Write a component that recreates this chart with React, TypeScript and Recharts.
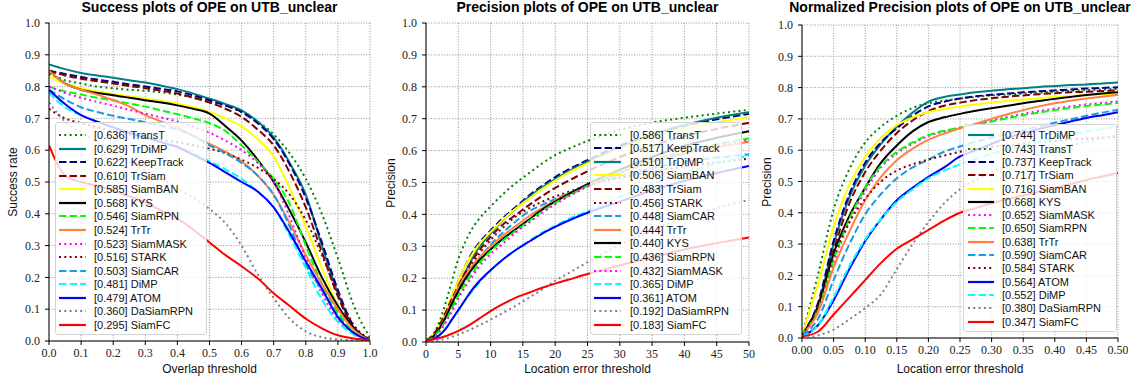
import React from 'react';
import { LineChart, Line, XAxis, YAxis, CartesianGrid } from 'recharts';

// ---------- thresholds ----------
const X_SUCCESS = [0, 0.05, 0.1, 0.15, 0.2, 0.25, 0.3, 0.35, 0.4, 0.45, 0.5, 0.55, 0.6, 0.65, 0.7, 0.75, 0.8, 0.85, 0.9, 0.95, 1.0];
const X_PRECISION = [0, 1, 2, 3, 4, 5, 6, 7, 8, 10, 12, 14, 16, 18, 20, 22, 25, 30, 35, 40, 45, 50];
const X_NORM = [0, 0.025, 0.05, 0.075, 0.1, 0.125, 0.15, 0.175, 0.2, 0.225, 0.25, 0.275, 0.3, 0.325, 0.35, 0.375, 0.4, 0.425, 0.45, 0.475, 0.5];

// ---------- tick labels ----------
const TICKS_SUCCESS_X = [0, 0.1, 0.2, 0.3, 0.4, 0.5, 0.6, 0.7, 0.8, 0.9, 1.0];
const TICKS_PRECISION_X = [0, 5, 10, 15, 20, 25, 30, 35, 40, 45, 50];
const TICKS_NORM_X = [0, 0.05, 0.1, 0.15, 0.2, 0.25, 0.3, 0.35, 0.4, 0.45, 0.5];
const TICKS_Y = [0, 0.1, 0.2, 0.3, 0.4, 0.5, 0.6, 0.7, 0.8, 0.9, 1.0];

// ---------- success plot ----------
const succ_TransT = [0.84, 0.82, 0.81, 0.80, 0.795, 0.79, 0.787, 0.782, 0.775, 0.765, 0.752, 0.74, 0.72, 0.69, 0.65, 0.59, 0.51, 0.40, 0.26, 0.11, 0.01];
const succ_TrDiMP = [0.87, 0.855, 0.843, 0.835, 0.828, 0.82, 0.813, 0.803, 0.792, 0.778, 0.762, 0.745, 0.725, 0.69, 0.64, 0.56, 0.46, 0.30, 0.15, 0.04, 0.005];
const succ_KeepTrack = [0.85, 0.84, 0.83, 0.822, 0.815, 0.807, 0.80, 0.793, 0.785, 0.772, 0.757, 0.74, 0.72, 0.685, 0.635, 0.555, 0.45, 0.31, 0.16, 0.045, 0.005];
const succ_TrSiam = [0.85, 0.835, 0.825, 0.817, 0.81, 0.802, 0.795, 0.787, 0.778, 0.765, 0.75, 0.73, 0.705, 0.665, 0.615, 0.53, 0.42, 0.28, 0.14, 0.04, 0.005];
const succ_SiamBAN = [0.83, 0.81, 0.795, 0.785, 0.777, 0.77, 0.763, 0.755, 0.747, 0.735, 0.72, 0.70, 0.675, 0.635, 0.58, 0.48, 0.36, 0.23, 0.11, 0.03, 0.003];
const succ_KYS = [0.85, 0.81, 0.79, 0.78, 0.773, 0.765, 0.757, 0.75, 0.741, 0.73, 0.715, 0.675, 0.63, 0.57, 0.50, 0.41, 0.31, 0.20, 0.11, 0.04, 0.003];
const succ_SiamRPN = [0.80, 0.785, 0.775, 0.765, 0.757, 0.747, 0.737, 0.725, 0.713, 0.70, 0.685, 0.66, 0.615, 0.565, 0.51, 0.43, 0.30, 0.18, 0.09, 0.025, 0.002];
const succ_TrTr = [0.85, 0.81, 0.79, 0.775, 0.757, 0.738, 0.71, 0.69, 0.67, 0.645, 0.62, 0.595, 0.565, 0.52, 0.46, 0.37, 0.27, 0.18, 0.10, 0.035, 0.003];
const succ_SiamMASK = [0.80, 0.78, 0.765, 0.752, 0.74, 0.727, 0.715, 0.703, 0.69, 0.673, 0.655, 0.63, 0.60, 0.56, 0.50, 0.39, 0.26, 0.15, 0.065, 0.02, 0.002];
const succ_STARK = [0.73, 0.70, 0.685, 0.672, 0.66, 0.65, 0.64, 0.632, 0.625, 0.615, 0.605, 0.59, 0.57, 0.545, 0.51, 0.46, 0.38, 0.27, 0.15, 0.05, 0.005];
const succ_SiamCAR = [0.79, 0.76, 0.735, 0.72, 0.708, 0.698, 0.688, 0.677, 0.665, 0.645, 0.615, 0.59, 0.56, 0.52, 0.46, 0.36, 0.24, 0.16, 0.08, 0.025, 0.002];
const succ_DiMP = [0.78, 0.735, 0.71, 0.69, 0.67, 0.655, 0.64, 0.625, 0.61, 0.59, 0.565, 0.54, 0.51, 0.47, 0.42, 0.33, 0.23, 0.13, 0.06, 0.02, 0.002];
const succ_ATOM = [0.79, 0.745, 0.71, 0.69, 0.672, 0.655, 0.64, 0.625, 0.61, 0.585, 0.56, 0.53, 0.50, 0.47, 0.42, 0.34, 0.25, 0.165, 0.075, 0.025, 0.002];
const succ_DaSiamRPN = [0.75, 0.69, 0.655, 0.625, 0.595, 0.565, 0.535, 0.51, 0.48, 0.45, 0.415, 0.37, 0.30, 0.21, 0.135, 0.07, 0.03, 0.012, 0.005, 0.002, 0];
const succ_SiamFC = [0.615, 0.52, 0.50, 0.488, 0.472, 0.455, 0.435, 0.41, 0.385, 0.35, 0.31, 0.27, 0.235, 0.197, 0.15, 0.11, 0.07, 0.04, 0.018, 0.008, 0.003];

// ---------- precision plot ----------
const prec_TransT = [0.005, 0.02, 0.06, 0.12, 0.19, 0.26, 0.31, 0.35, 0.38, 0.425, 0.465, 0.50, 0.53, 0.56, 0.586, 0.605, 0.63, 0.665, 0.688, 0.703, 0.716, 0.728];
const prec_KeepTrack = [0.005, 0.015, 0.045, 0.09, 0.14, 0.19, 0.235, 0.275, 0.305, 0.35, 0.39, 0.425, 0.46, 0.49, 0.517, 0.54, 0.57, 0.615, 0.65, 0.678, 0.698, 0.715];
const prec_TrDiMP = [0.005, 0.015, 0.04, 0.08, 0.125, 0.17, 0.215, 0.255, 0.29, 0.34, 0.383, 0.42, 0.455, 0.485, 0.51, 0.535, 0.565, 0.61, 0.65, 0.68, 0.703, 0.72];
const prec_SiamBAN = [0.005, 0.02, 0.05, 0.095, 0.145, 0.19, 0.235, 0.27, 0.30, 0.345, 0.385, 0.42, 0.45, 0.48, 0.506, 0.53, 0.56, 0.605, 0.64, 0.668, 0.688, 0.705];
const prec_TrSiam = [0.005, 0.02, 0.05, 0.09, 0.135, 0.175, 0.215, 0.25, 0.28, 0.33, 0.37, 0.40, 0.43, 0.458, 0.483, 0.505, 0.535, 0.58, 0.615, 0.645, 0.668, 0.687];
const prec_STARK = [0.005, 0.02, 0.05, 0.09, 0.13, 0.17, 0.21, 0.24, 0.27, 0.32, 0.36, 0.395, 0.42, 0.44, 0.456, 0.47, 0.49, 0.515, 0.535, 0.55, 0.563, 0.575];
const prec_SiamCAR = [0.005, 0.015, 0.04, 0.075, 0.115, 0.155, 0.19, 0.225, 0.255, 0.305, 0.345, 0.38, 0.41, 0.43, 0.448, 0.465, 0.49, 0.52, 0.545, 0.565, 0.578, 0.588];
const prec_TrTr = [0.005, 0.015, 0.04, 0.08, 0.125, 0.17, 0.205, 0.235, 0.26, 0.30, 0.335, 0.365, 0.395, 0.42, 0.444, 0.465, 0.49, 0.53, 0.565, 0.59, 0.61, 0.628];
const prec_KYS = [0.005, 0.015, 0.04, 0.075, 0.12, 0.16, 0.195, 0.225, 0.25, 0.29, 0.325, 0.355, 0.385, 0.415, 0.44, 0.463, 0.495, 0.54, 0.58, 0.615, 0.64, 0.661];
const prec_SiamRPN = [0.005, 0.012, 0.035, 0.065, 0.105, 0.145, 0.18, 0.21, 0.24, 0.285, 0.32, 0.35, 0.38, 0.41, 0.436, 0.458, 0.49, 0.535, 0.57, 0.598, 0.62, 0.638];
const prec_SiamMASK = [0.005, 0.012, 0.03, 0.06, 0.095, 0.135, 0.17, 0.20, 0.23, 0.275, 0.31, 0.345, 0.375, 0.405, 0.432, 0.455, 0.487, 0.53, 0.565, 0.593, 0.615, 0.632];
const prec_DiMP = [0.003, 0.008, 0.02, 0.04, 0.07, 0.10, 0.13, 0.155, 0.18, 0.225, 0.26, 0.29, 0.318, 0.343, 0.365, 0.385, 0.41, 0.455, 0.495, 0.53, 0.56, 0.585];
const prec_ATOM = [0.003, 0.008, 0.02, 0.04, 0.07, 0.10, 0.13, 0.16, 0.185, 0.225, 0.26, 0.29, 0.315, 0.34, 0.361, 0.38, 0.405, 0.44, 0.475, 0.505, 0.53, 0.552];
const prec_DaSiamRPN = [0, 0.002, 0.005, 0.01, 0.016, 0.024, 0.032, 0.04, 0.05, 0.07, 0.092, 0.115, 0.14, 0.165, 0.192, 0.215, 0.25, 0.305, 0.35, 0.39, 0.42, 0.445];
const prec_SiamFC = [0.005, 0.008, 0.012, 0.018, 0.026, 0.035, 0.045, 0.057, 0.07, 0.097, 0.12, 0.14, 0.155, 0.17, 0.183, 0.195, 0.213, 0.24, 0.265, 0.29, 0.31, 0.328];

// ---------- normalized precision plot ----------
const norm_TrDiMP = [0.01, 0.1, 0.30, 0.45, 0.55, 0.62, 0.675, 0.72, 0.755, 0.77, 0.778, 0.785, 0.79, 0.795, 0.798, 0.802, 0.805, 0.808, 0.81, 0.813, 0.816];
const norm_TransT = [0.01, 0.2, 0.41, 0.54, 0.625, 0.675, 0.71, 0.735, 0.75, 0.758, 0.765, 0.77, 0.775, 0.778, 0.781, 0.784, 0.787, 0.79, 0.792, 0.794, 0.796];
const norm_KeepTrack = [0.01, 0.11, 0.31, 0.46, 0.56, 0.625, 0.67, 0.71, 0.74, 0.755, 0.765, 0.772, 0.777, 0.781, 0.785, 0.788, 0.791, 0.794, 0.797, 0.799, 0.801];
const norm_TrSiam = [0.01, 0.1, 0.28, 0.43, 0.53, 0.60, 0.655, 0.695, 0.725, 0.742, 0.752, 0.76, 0.766, 0.771, 0.775, 0.779, 0.782, 0.785, 0.787, 0.789, 0.791];
const norm_SiamBAN = [0.01, 0.17, 0.355, 0.49, 0.58, 0.64, 0.68, 0.705, 0.722, 0.732, 0.74, 0.746, 0.752, 0.757, 0.762, 0.766, 0.77, 0.773, 0.776, 0.778, 0.78];
const norm_KYS = [0.01, 0.1, 0.27, 0.39, 0.48, 0.56, 0.615, 0.66, 0.69, 0.705, 0.716, 0.726, 0.734, 0.742, 0.75, 0.757, 0.764, 0.77, 0.776, 0.781, 0.785];
const norm_SiamMASK = [0.01, 0.085, 0.24, 0.37, 0.47, 0.545, 0.59, 0.62, 0.645, 0.66, 0.672, 0.683, 0.695, 0.706, 0.716, 0.725, 0.733, 0.74, 0.746, 0.751, 0.756];
const norm_SiamRPN = [0.01, 0.09, 0.25, 0.38, 0.48, 0.55, 0.595, 0.625, 0.648, 0.662, 0.672, 0.682, 0.692, 0.702, 0.712, 0.72, 0.728, 0.735, 0.741, 0.746, 0.751];
const norm_TrTr = [0.01, 0.08, 0.225, 0.34, 0.44, 0.515, 0.568, 0.605, 0.633, 0.653, 0.67, 0.685, 0.70, 0.715, 0.728, 0.74, 0.75, 0.758, 0.765, 0.771, 0.777];
const norm_SiamCAR = [0.01, 0.06, 0.185, 0.30, 0.395, 0.46, 0.51, 0.545, 0.57, 0.595, 0.612, 0.627, 0.64, 0.652, 0.664, 0.676, 0.688, 0.699, 0.71, 0.72, 0.729];
const norm_STARK = [0.01, 0.1, 0.26, 0.37, 0.445, 0.50, 0.535, 0.555, 0.57, 0.583, 0.595, 0.603, 0.61, 0.616, 0.621, 0.626, 0.63, 0.634, 0.637, 0.64, 0.643];
const norm_ATOM = [0.005, 0.04, 0.12, 0.22, 0.31, 0.38, 0.44, 0.48, 0.515, 0.545, 0.58, 0.60, 0.62, 0.64, 0.655, 0.668, 0.68, 0.692, 0.703, 0.712, 0.721];
const norm_DiMP = [0.005, 0.04, 0.13, 0.23, 0.315, 0.38, 0.435, 0.475, 0.51, 0.535, 0.555, 0.572, 0.588, 0.602, 0.615, 0.627, 0.638, 0.649, 0.659, 0.668, 0.676];
const norm_DaSiamRPN = [0, 0.008, 0.027, 0.06, 0.096, 0.14, 0.22, 0.30, 0.37, 0.43, 0.475, 0.505, 0.53, 0.55, 0.57, 0.587, 0.602, 0.615, 0.627, 0.638, 0.648];
const norm_SiamFC = [0.005, 0.02, 0.075, 0.13, 0.185, 0.24, 0.285, 0.315, 0.345, 0.375, 0.40, 0.415, 0.43, 0.443, 0.455, 0.467, 0.48, 0.492, 0.505, 0.516, 0.527];

// ---------- legend order and scores ----------
const ORDER_SUCCESS = ['TransT', 'TrDiMP', 'KeepTrack', 'TrSiam', 'SiamBAN', 'KYS', 'SiamRPN', 'TrTr', 'SiamMASK', 'STARK', 'SiamCAR', 'DiMP', 'ATOM', 'DaSiamRPN', 'SiamFC'];
const SCORES_SUCCESS = ['0.636', '0.629', '0.622', '0.610', '0.585', '0.568', '0.546', '0.524', '0.523', '0.516', '0.503', '0.481', '0.479', '0.360', '0.295'];
const ORDER_PRECISION = ['TransT', 'KeepTrack', 'TrDiMP', 'SiamBAN', 'TrSiam', 'STARK', 'SiamCAR', 'TrTr', 'KYS', 'SiamRPN', 'SiamMASK', 'DiMP', 'ATOM', 'DaSiamRPN', 'SiamFC'];
const SCORES_PRECISION = ['0.586', '0.517', '0.510', '0.506', '0.483', '0.456', '0.448', '0.444', '0.440', '0.436', '0.432', '0.365', '0.361', '0.192', '0.183'];
const ORDER_NORM = ['TrDiMP', 'TransT', 'KeepTrack', 'TrSiam', 'SiamBAN', 'KYS', 'SiamMASK', 'SiamRPN', 'TrTr', 'SiamCAR', 'STARK', 'ATOM', 'DiMP', 'DaSiamRPN', 'SiamFC'];
const SCORES_NORM = ['0.744', '0.743', '0.737', '0.717', '0.716', '0.668', '0.652', '0.650', '0.638', '0.590', '0.584', '0.564', '0.552', '0.380', '0.347'];

const SUCCESS: Record<string, number[]> = {
  TransT: succ_TransT, TrDiMP: succ_TrDiMP, KeepTrack: succ_KeepTrack, TrSiam: succ_TrSiam, SiamBAN: succ_SiamBAN,
  KYS: succ_KYS, SiamRPN: succ_SiamRPN, TrTr: succ_TrTr, SiamMASK: succ_SiamMASK, STARK: succ_STARK,
  SiamCAR: succ_SiamCAR, DiMP: succ_DiMP, ATOM: succ_ATOM, DaSiamRPN: succ_DaSiamRPN, SiamFC: succ_SiamFC,
};
const PRECISION: Record<string, number[]> = {
  TransT: prec_TransT, TrDiMP: prec_TrDiMP, KeepTrack: prec_KeepTrack, TrSiam: prec_TrSiam, SiamBAN: prec_SiamBAN,
  KYS: prec_KYS, SiamRPN: prec_SiamRPN, TrTr: prec_TrTr, SiamMASK: prec_SiamMASK, STARK: prec_STARK,
  SiamCAR: prec_SiamCAR, DiMP: prec_DiMP, ATOM: prec_ATOM, DaSiamRPN: prec_DaSiamRPN, SiamFC: prec_SiamFC,
};
const NORM: Record<string, number[]> = {
  TransT: norm_TransT, TrDiMP: norm_TrDiMP, KeepTrack: norm_KeepTrack, TrSiam: norm_TrSiam, SiamBAN: norm_SiamBAN,
  KYS: norm_KYS, SiamRPN: norm_SiamRPN, TrTr: norm_TrTr, SiamMASK: norm_SiamMASK, STARK: norm_STARK,
  SiamCAR: norm_SiamCAR, DiMP: norm_DiMP, ATOM: norm_ATOM, DaSiamRPN: norm_DaSiamRPN, SiamFC: norm_SiamFC,
};

// ---------- styles ----------
const DOT = '2 3.3';
const DASH = '7.4 3.2';
const STYLE: Record<string, { color: string; dash?: string }> = {
  TransT: { color: '#008000', dash: DOT },
  TrDiMP: { color: '#008080' },
  KeepTrack: { color: '#000080', dash: DASH },
  TrSiam: { color: '#800000', dash: DASH },
  SiamBAN: { color: '#ffff00' },
  KYS: { color: '#000000' },
  SiamRPN: { color: '#00ff00', dash: DASH },
  TrTr: { color: '#ff8040' },
  SiamMASK: { color: '#ff00ff', dash: DOT },
  STARK: { color: '#800000', dash: DOT },
  SiamCAR: { color: '#1a9be6', dash: DASH },
  DiMP: { color: '#00ffff', dash: DASH },
  ATOM: { color: '#0000ff' },
  DaSiamRPN: { color: '#808080', dash: DOT },
  SiamFC: { color: '#ff0000' },
};

const SANS = '"Liberation Sans", Arial, Helvetica, sans-serif';
const SERIF = '"Liberation Serif", "Times New Roman", serif';

function buildRows(xs: number[], series: Record<string, number[]>, names: string[]) {
  return xs.map((x, i) => {
    const row: Record<string, number> = { x };
    names.forEach((n) => { row[n] = series[n][i]; });
    return row;
  });
}

type PanelProps = {
  left: number; plotRight: number; top: number; bottom: number;
  xs: number[]; series: Record<string, number[]>; order: string[]; scores: string[];
  xTicks: number[]; xDomain: [number, number]; xFmt: (v: number) => string;
  title: string; xLabel: string; yLabel: string; yLabelX: number;
  legend: { left: number; top: number; width: number; height: number; row0: number; step: number; hx: number; hlen: number; tx: number };
};

function Panel(p: PanelProps) {
  const rows = buildRows(p.xs, p.series, p.order);
  const plotLeft = p.left + 40;
  const width = p.plotRight - p.left + 10;
  const plotTop = p.top;
  const plotBottom = 387 - p.bottom - 30;
  const cx = (plotLeft + p.plotRight) / 2;
  const cy = (plotTop + plotBottom) / 2;
  const L = p.legend;
  return (
    <>
      <div style={{ position: 'absolute', left: p.left, top: 0, width, height: 387 }}>
        <LineChart width={width} height={387} data={rows} margin={{ top: p.top, right: 10, bottom: p.bottom, left: 0 }}>
          <CartesianGrid stroke="#7a7a7a" strokeDasharray="1 1.6" strokeWidth={0.8} />
          <XAxis dataKey="x" type="number" domain={p.xDomain} ticks={p.xTicks} interval={0} allowDataOverflow
            tickFormatter={p.xFmt} tickSize={4} tickMargin={3} height={30} stroke="#000"
            tick={{ fill: '#222', fontSize: 12, fontFamily: SERIF }} />
          <YAxis type="number" domain={[0, 1]} ticks={TICKS_Y} interval={0} allowDataOverflow
            tickFormatter={(v: number) => v.toFixed(1)} tickSize={4} tickMargin={5} width={40} stroke="#000"
            tick={{ fill: '#222', fontSize: 12, fontFamily: SERIF }} />
          <XAxis xAxisId="top" orientation="top" type="number" domain={p.xDomain} tick={false} tickLine={false} height={0} stroke="#000" />
          <YAxis yAxisId="right" orientation="right" type="number" domain={[0, 1]} tick={false} tickLine={false} width={0} stroke="#000" />
          {p.order.map((n) => (
            <Line key={n} dataKey={n} type="monotone" stroke={STYLE[n].color} strokeWidth={2}
              strokeDasharray={STYLE[n].dash} dot={false} activeDot={false} isAnimationActive={false} />
          ))}
        </LineChart>
      </div>
      <div style={{ position: 'absolute', left: cx - 250, width: 500, top: -1, textAlign: 'center', fontFamily: SANS, fontWeight: 'bold', fontSize: 14, lineHeight: '16px', color: '#000', whiteSpace: 'nowrap' }}>{p.title}</div>
      <div style={{ position: 'absolute', left: cx - 150, width: 300, top: 362, textAlign: 'center', fontFamily: SANS, fontSize: 12, lineHeight: '14px', color: '#111' }}>{p.xLabel}</div>
      <div style={{ position: 'absolute', left: p.yLabelX - 100, width: 200, top: cy - 7, height: 14, textAlign: 'center', fontFamily: SANS, fontSize: 12, lineHeight: '14px', color: '#111', transform: 'rotate(-90deg)' }}>{p.yLabel}</div>
      <div style={{ position: 'absolute', left: L.left, top: L.top, width: L.width, height: L.height, background: 'rgba(255,255,255,0.8)', border: '1px solid #d4d4d4', borderRadius: 3, boxSizing: 'border-box' }}>
        {p.order.map((n, i) => {
          const yc = L.row0 + L.step * i - L.top;
          return (
            <React.Fragment key={n}>
              <svg style={{ position: 'absolute', left: L.hx, top: yc - 3 }} width={L.hlen} height={6}>
                <line x1={0} y1={3} x2={L.hlen} y2={3} stroke={STYLE[n].color} strokeWidth={2.2} strokeDasharray={STYLE[n].dash} />
              </svg>
              <div style={{ position: 'absolute', left: L.tx, top: yc - 7, height: 14, lineHeight: '14px', fontFamily: SANS, fontSize: 11, color: '#111', whiteSpace: 'nowrap' }}>
                [{p.scores[i]}] {n}
              </div>
            </React.Fragment>
          );
        })}
      </div>
    </>
  );
}

export default function App() {
  return (
    <div style={{ position: 'absolute', left: 0, top: 0, width: 1137, height: 387, background: '#fff', overflow: 'hidden' }}>
      <Panel left={9} plotRight={370} top={23} bottom={16}
        xs={X_SUCCESS} series={SUCCESS} order={ORDER_SUCCESS} scores={SCORES_SUCCESS}
        xTicks={TICKS_SUCCESS_X} xDomain={[0, 1]} xFmt={(v) => v.toFixed(1)}
        title="Success plots of OPE on UTB_unclear" xLabel="Overlap threshold" yLabel="Success rate" yLabelX={12.5}
        legend={{ left: 55, top: 122, width: 152, height: 213, row0: 134, step: 13.57, hx: 3, hlen: 27, tx: 38 }} />
      <Panel left={386} plotRight={749} top={23} bottom={15}
        xs={X_PRECISION} series={PRECISION} order={ORDER_PRECISION} scores={SCORES_PRECISION}
        xTicks={TICKS_PRECISION_X} xDomain={[0, 50]} xFmt={(v) => String(v)}
        title="Precision plots of OPE on UTB_unclear" xLabel="Location error threshold" yLabel="Precision" yLabelX={391}
        legend={{ left: 590, top: 122, width: 152, height: 213, row0: 133.5, step: 13.6, hx: 3, hlen: 27, tx: 39 }} />
      <Panel left={762} plotRight={1118} top={25} bottom={19}
        xs={X_NORM} series={NORM} order={ORDER_NORM} scores={SCORES_NORM}
        xTicks={TICKS_NORM_X} xDomain={[0, 0.5]} xFmt={(v) => v.toFixed(2)}
        title="Normalized Precision plots of OPE on UTB_unclear" xLabel="Location error threshold" yLabel="Precision" yLabelX={767}
        legend={{ left: 963, top: 124, width: 154, height: 208, row0: 134.3, step: 13.31, hx: 4, hlen: 26, tx: 38 }} />
    </div>
  );
}
